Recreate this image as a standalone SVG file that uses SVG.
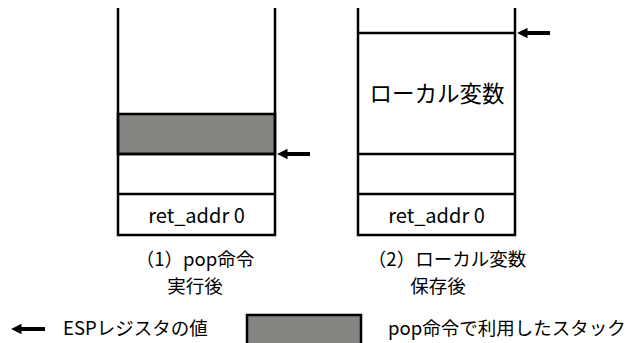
<svg xmlns="http://www.w3.org/2000/svg" width="629" height="343" viewBox="0 0 629 343">
<defs>
<marker id="ah" viewBox="0 0 10 10" refX="0.5" refY="5" markerWidth="2.6" markerHeight="2.6" orient="auto" markerUnits="strokeWidth">
<path d="M0,0 L10,5 L0,10 z" fill="#000"/>
</marker>
<style>
.ln{stroke:#000;stroke-width:2.5;fill:none}
.gray{fill:#868581;stroke:#000;stroke-width:2.5}
.t{font-family:"Noto Sans CJK JP","Noto Sans",sans-serif;fill:#000;text-anchor:middle}
.s18{font-size:18.5px}
.cap{font-size:18.5px}
.s20{font-size:20px}
.arr{stroke:#000;stroke-width:4;fill:none}
</style>
</defs>
<g id="stack1">
<rect class="gray" x="118" y="114" width="157" height="40"/>
<path class="ln" d="M118,8 V235 H275 V8 M118,154 H275 M118,194 H275"/>
<text class="t s20" x="196.5" y="223">ret_addr 0</text>
</g>
<g id="caption1">
<text class="t cap" x="195" y="266">（1）pop命令</text>
<text class="t cap" x="195" y="293">実行後</text>
</g>
<g id="stack2">
<path class="ln" d="M358,8 V235 H515 V8 M358,33 H515 M358,154 H515 M358,194 H515"/>
<text class="t" style="font-size:22.5px" x="437" y="102">ローカル変数</text>
<text class="t s20" x="436.5" y="223">ret_addr 0</text>
</g>
<g id="caption2">
<text class="t cap" x="447" y="266">（2）ローカル変数</text>
<text class="t cap" x="438" y="293">保存後</text>
</g>
<g id="connectors">
<line class="arr" x1="310" y1="154" x2="287" y2="154" marker-end="url(#ah)"/>
<line class="arr" x1="550" y1="33" x2="527" y2="33" marker-end="url(#ah)"/>
</g>
<g id="legend">
<line class="arr" x1="45" y1="329" x2="21" y2="329" marker-end="url(#ah)"/>
<text class="t s18" style="text-anchor:start" x="63" y="335">ESPレジスタの値</text>
<rect class="gray" x="247" y="315" width="114" height="40"/>
<text class="t s18" style="text-anchor:start" x="388" y="335">pop命令で利用したスタック</text>
</g>
</svg>
